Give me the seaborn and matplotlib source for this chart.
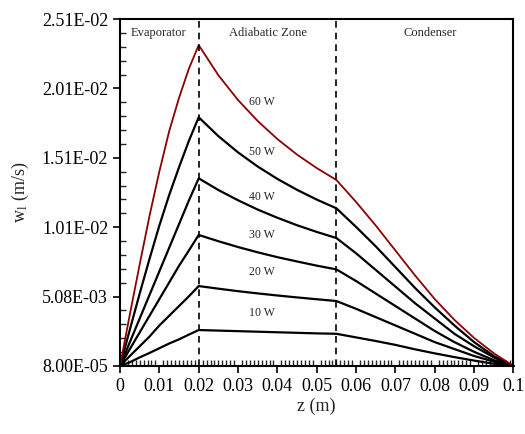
import matplotlib
matplotlib.use("Agg")
import matplotlib.pyplot as plt
import seaborn as sns
import pandas as pd
from matplotlib.ticker import MultipleLocator, FixedLocator

# axial position (m)
z = [0, 0.0025, 0.005, 0.0075, 0.01, 0.0125, 0.015, 0.0175, 0.02,
     0.025, 0.03, 0.035, 0.04, 0.045, 0.05, 0.055,
     0.06, 0.065, 0.07, 0.075, 0.08, 0.085, 0.09, 0.095, 0.1]

# liquid velocity w_l (m/s) for each heat load
w_10 = [0.00008, 0.00035, 0.0007, 0.00102, 0.00136, 0.0017, 0.002, 0.00234, 0.00267,
        0.00263, 0.00259, 0.00255, 0.00251, 0.00247, 0.00243, 0.0024,
        0.00214, 0.00188, 0.0016, 0.00128, 0.00099, 0.00072, 0.00047, 0.00024, 0.00008]
w_20 = [0.00008, 0.0008, 0.0015, 0.0022, 0.003, 0.0037, 0.0044, 0.0051, 0.00584,
        0.00565, 0.00547, 0.00531, 0.00516, 0.00502, 0.00489, 0.00476,
        0.0042, 0.0036, 0.003, 0.0024, 0.0018, 0.0013, 0.0008, 0.0004, 0.00008]
w_30 = [0.00008, 0.0013, 0.0025, 0.0037, 0.0049, 0.0061, 0.0073, 0.0084, 0.00952,
        0.00907, 0.00865, 0.00827, 0.00792, 0.00761, 0.00731, 0.00704,
        0.0062, 0.0053, 0.0044, 0.0035, 0.0026, 0.0018, 0.0011, 0.0005, 0.00008]
w_40 = [0.00008, 0.0018, 0.0035, 0.0052, 0.0069, 0.0086, 0.0103, 0.012, 0.0136,
        0.01276, 0.01202, 0.01135, 0.01076, 0.01022, 0.00974, 0.0093,
        0.0082, 0.007, 0.0058, 0.0046, 0.0035, 0.0024, 0.0015, 0.0007, 0.00008]
w_50 = [0.00008, 0.0027, 0.0053, 0.0078, 0.0102, 0.0124, 0.0144, 0.0163, 0.018,
        0.01664, 0.01547, 0.01445, 0.01356, 0.01277, 0.01207, 0.01144,
        0.0101, 0.0087, 0.0072, 0.0057, 0.0043, 0.003, 0.0018, 0.0008, 0.00008]
w_60 = [0.00008, 0.0038, 0.0074, 0.0109, 0.0141, 0.017, 0.0194, 0.0215, 0.0232,
        0.02103, 0.01924, 0.01773, 0.01643, 0.01531, 0.01434, 0.01348,
        0.0119, 0.0102, 0.0084, 0.0066, 0.0049, 0.0034, 0.0021, 0.001, 0.00008]

powers = ["10 W", "20 W", "30 W", "40 W", "50 W", "60 W"]
series = [w_10, w_20, w_30, w_40, w_50, w_60]

y_ticks = [0.00008, 0.00508, 0.01008, 0.01508, 0.02008, 0.02508]
y_labels = ["8.00E-05", "5.08E-03", "1.01E-02", "1.51E-02", "2.01E-02", "2.51E-02"]
x_ticks = [0, 0.01, 0.02, 0.03, 0.04, 0.05, 0.06, 0.07, 0.08, 0.09, 0.1]
x_labels = ["0", "0.01", "0.02", "0.03", "0.04", "0.05", "0.06", "0.07", "0.08", "0.09", "0.1"]

zones = ["Evaporator", "Adiabatic Zone", "Condenser"]
boundaries = [0.02, 0.055]

rows = []
for p, w in zip(powers, series):
    for zi, wi in zip(z, w):
        rows.append([zi, wi, p])
df = pd.DataFrame(rows, columns=["z", "w", "power"])

sns.set_style("ticks")
plt.rcParams["font.family"] = ["Liberation Serif", "DejaVu Serif"]
plt.rcParams["mathtext.fontset"] = "stix"

fig = plt.figure(figsize=(5.25, 4.34), dpi=100)
ax = fig.add_axes([0.2286, 0.1567, 0.7494, 0.7995])

palette = {p: "black" for p in powers}
palette["60 W"] = "#8b0000"
sns.lineplot(data=df, x="z", y="w", hue="power", palette=palette,
             linewidth=1.6, legend=False, ax=ax, sort=False)
for line in ax.get_lines():
    line.set_clip_on(False)
    line.set_solid_joinstyle("round")
ax.get_lines()[-1].set_linewidth(1.3)

for b in boundaries:
    ax.axvline(b, color="black", lw=1.2, ls=(0, (4, 3)))

ax.set_xlim(0, 0.1)
ax.set_ylim(y_ticks[0], y_ticks[-1])
ax.yaxis.set_major_locator(FixedLocator(y_ticks))
ax.set_yticklabels(y_labels)
ax.yaxis.set_minor_locator(FixedLocator([y_ticks[0] + 0.001 * i for i in range(26)]))
ax.xaxis.set_major_locator(FixedLocator(x_ticks))
ax.set_xticklabels(x_labels)
ax.xaxis.set_minor_locator(MultipleLocator(0.001))

ax.tick_params(which="major", direction="out", length=5, width=1.2, labelsize=13, colors="black")
ax.tick_params(which="minor", direction="in", length=4, width=1.0)
for s in ax.spines.values():
    s.set_linewidth(1.5)
    s.set_color("black")

ax.set_xlabel("z (m)", fontsize=13, labelpad=2)
ax.set_ylabel(r"w$_\mathregular{l}$ (m/s)", fontsize=13, labelpad=8)

zone_x = [0.0097, 0.0376, 0.0788]
for name, xz in zip(zones, zone_x):
    ax.text(xz, 0.96, name, transform=ax.get_xaxis_transform(),
            ha="center", va="center", fontsize=9)

label_y = [0.00392, 0.00687, 0.00952, 0.01228, 0.01552, 0.01912]
for p, ly in zip(powers, label_y):
    ax.text(0.0361, ly, p, ha="center", va="center", fontsize=8.6)

fig.savefig("out.png", dpi=100)
